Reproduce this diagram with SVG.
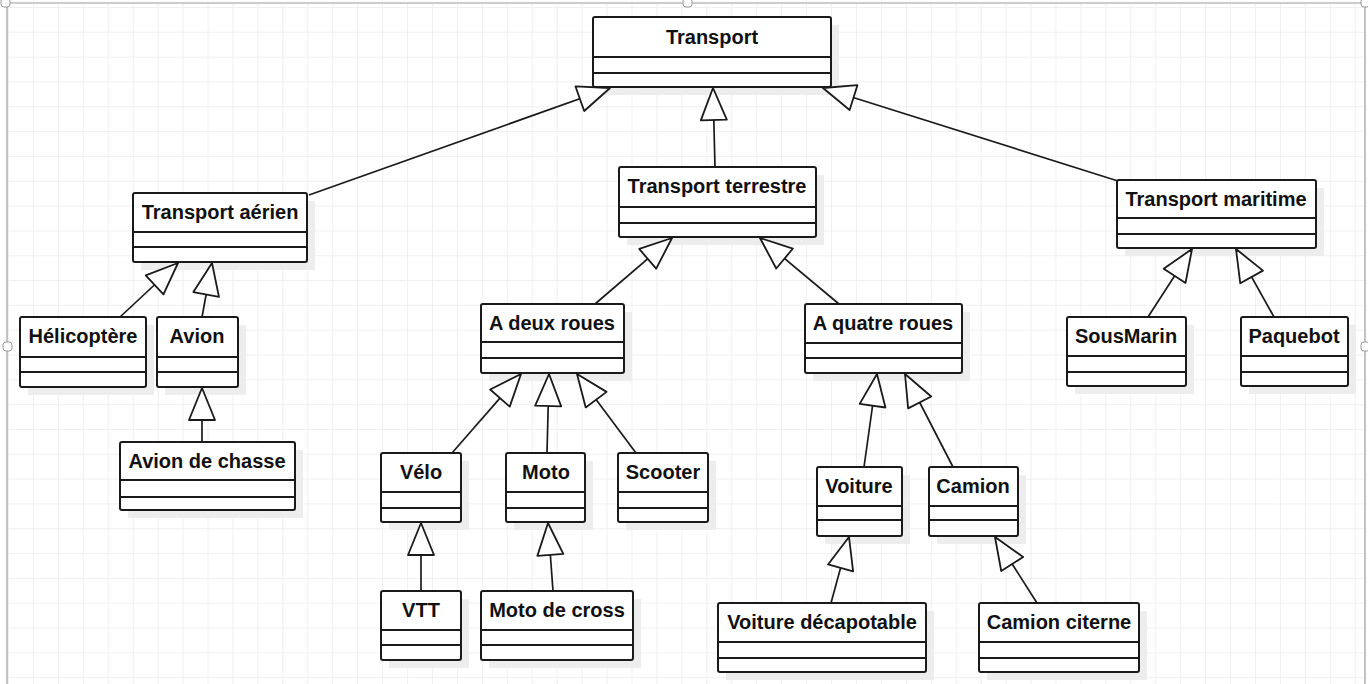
<svg xmlns="http://www.w3.org/2000/svg" width="1368" height="684" viewBox="0 0 1368 684">
<style>
.box{fill:#fff;stroke:#1a1a1a;stroke-width:2}
.shadow{fill:#ededed}
.div{stroke:#1a1a1a;stroke-width:2}
.lbl{font-family:"Liberation Sans",Arial,sans-serif;font-weight:bold;font-size:20px;fill:#111;text-anchor:middle}
.conn{stroke:#1a1a1a;stroke-width:1.7;fill:none}
.handle{fill:#fff;stroke:#9a9a9a;stroke-width:1}
</style>
<defs>
<pattern id="grid" x="8" y="7" width="24.94" height="24.82" patternUnits="userSpaceOnUse">
<path d="M0,0 H24.94 M0,0 V24.82" stroke="#ececec" stroke-width="1.5" fill="none"/>
</pattern>
<marker id="tri" viewBox="-2 -2 36 32" refX="32" refY="14" markerWidth="36" markerHeight="32" markerUnits="userSpaceOnUse" orient="auto" overflow="visible">
<path d="M0,1 L32,14 L0,27 Z" fill="#fff" stroke="#1a1a1a" stroke-width="1.8" stroke-linejoin="round"/>
</marker>
</defs>
<rect x="0" y="0" width="1368" height="684" fill="#fff"/>
<rect x="7" y="3" width="1358" height="681" fill="url(#grid)"/>
<path d="M7,684 V3 H1365 V684" fill="none" stroke="#9a9a9a" stroke-width="1.2"/>
<g id="handles">
<rect class="handle" x="1" y="-2" width="9" height="9" rx="3"/>
<rect class="handle" x="683" y="-2" width="9" height="9" rx="3"/>
<rect class="handle" x="1361" y="-2" width="9" height="9" rx="3"/>
<rect class="handle" x="3" y="342" width="9" height="9" rx="3"/>
<rect class="handle" x="1361" y="342" width="9" height="9" rx="3"/>
</g>

<g id="shadows">
<rect class="shadow" x="601" y="25" width="238" height="70"/>
<rect class="shadow" x="141" y="201" width="174" height="69"/>
<rect class="shadow" x="627" y="175" width="197" height="70"/>
<rect class="shadow" x="1125" y="188" width="199" height="68"/>
<rect class="shadow" x="28" y="325" width="126" height="70"/>
<rect class="shadow" x="165" y="325" width="81" height="70"/>
<rect class="shadow" x="128" y="450" width="175" height="68"/>
<rect class="shadow" x="489" y="312" width="143" height="69"/>
<rect class="shadow" x="813" y="312" width="157" height="69"/>
<rect class="shadow" x="389" y="461" width="80" height="69"/>
<rect class="shadow" x="514" y="461" width="79" height="69"/>
<rect class="shadow" x="626" y="461" width="90" height="69"/>
<rect class="shadow" x="389" y="599" width="80" height="69"/>
<rect class="shadow" x="489" y="599" width="152" height="69"/>
<rect class="shadow" x="825" y="475" width="85" height="69"/>
<rect class="shadow" x="937" y="475" width="89" height="69"/>
<rect class="shadow" x="726" y="611" width="208" height="69"/>
<rect class="shadow" x="987" y="611" width="160" height="69"/>
<rect class="shadow" x="1075" y="325" width="119" height="69"/>
<rect class="shadow" x="1249" y="325" width="107" height="69"/>
</g>

<g id="transport">
<rect class="box" x="593" y="17" width="238" height="70" rx="2"/>
<line class="div" x1="593" y1="57" x2="831" y2="57"/><line class="div" x1="593" y1="73" x2="831" y2="73"/>
<text class="lbl" x="712" y="44">Transport</text>
</g>
<g id="transport-aerien">
<rect class="box" x="133" y="193" width="174" height="69" rx="2"/>
<line class="div" x1="133" y1="232" x2="307" y2="232"/><line class="div" x1="133" y1="247" x2="307" y2="247"/>
<text class="lbl" x="220" y="219">Transport aérien</text>
</g>
<g id="transport-terrestre">
<rect class="box" x="619" y="167" width="197" height="70" rx="2"/>
<line class="div" x1="619" y1="207" x2="816" y2="207"/><line class="div" x1="619" y1="223" x2="816" y2="223"/>
<text class="lbl" x="717" y="193">Transport terrestre</text>
</g>
<g id="transport-maritime">
<rect class="box" x="1117" y="180" width="199" height="68" rx="2"/>
<line class="div" x1="1117" y1="218" x2="1316" y2="218"/><line class="div" x1="1117" y1="234" x2="1316" y2="234"/>
<text class="lbl" x="1216" y="206">Transport maritime</text>
</g>
<g id="helicoptere">
<rect class="box" x="20" y="317" width="126" height="70" rx="2"/>
<line class="div" x1="20" y1="357" x2="146" y2="357"/><line class="div" x1="20" y1="372" x2="146" y2="372"/>
<text class="lbl" x="83" y="343">Hélicoptère</text>
</g>
<g id="avion">
<rect class="box" x="157" y="317" width="81" height="70" rx="2"/>
<line class="div" x1="157" y1="357" x2="238" y2="357"/><line class="div" x1="157" y1="372" x2="238" y2="372"/>
<text class="lbl" x="197" y="343">Avion</text>
</g>
<g id="avion-de-chasse">
<rect class="box" x="120" y="442" width="175" height="68" rx="2"/>
<line class="div" x1="120" y1="480" x2="295" y2="480"/><line class="div" x1="120" y1="497" x2="295" y2="497"/>
<text class="lbl" x="207" y="468">Avion de chasse</text>
</g>
<g id="a-deux-roues">
<rect class="box" x="481" y="304" width="143" height="69" rx="2"/>
<line class="div" x1="481" y1="342" x2="624" y2="342"/><line class="div" x1="481" y1="358" x2="624" y2="358"/>
<text class="lbl" x="552" y="330">A deux roues</text>
</g>
<g id="a-quatre-roues">
<rect class="box" x="805" y="304" width="157" height="69" rx="2"/>
<line class="div" x1="805" y1="343" x2="962" y2="343"/><line class="div" x1="805" y1="358" x2="962" y2="358"/>
<text class="lbl" x="883" y="330">A quatre roues</text>
</g>
<g id="velo">
<rect class="box" x="381" y="453" width="80" height="69" rx="2"/>
<line class="div" x1="381" y1="492" x2="461" y2="492"/><line class="div" x1="381" y1="508" x2="461" y2="508"/>
<text class="lbl" x="421" y="479">Vélo</text>
</g>
<g id="moto">
<rect class="box" x="506" y="453" width="79" height="69" rx="2"/>
<line class="div" x1="506" y1="492" x2="585" y2="492"/><line class="div" x1="506" y1="508" x2="585" y2="508"/>
<text class="lbl" x="546" y="479">Moto</text>
</g>
<g id="scooter">
<rect class="box" x="618" y="453" width="90" height="69" rx="2"/>
<line class="div" x1="618" y1="492" x2="708" y2="492"/><line class="div" x1="618" y1="508" x2="708" y2="508"/>
<text class="lbl" x="663" y="479">Scooter</text>
</g>
<g id="vtt">
<rect class="box" x="381" y="591" width="80" height="69" rx="2"/>
<line class="div" x1="381" y1="630" x2="461" y2="630"/><line class="div" x1="381" y1="645" x2="461" y2="645"/>
<text class="lbl" x="421" y="617">VTT</text>
</g>
<g id="moto-de-cross">
<rect class="box" x="481" y="591" width="152" height="69" rx="2"/>
<line class="div" x1="481" y1="630" x2="633" y2="630"/><line class="div" x1="481" y1="645" x2="633" y2="645"/>
<text class="lbl" x="557" y="617">Moto de cross</text>
</g>
<g id="voiture">
<rect class="box" x="817" y="467" width="85" height="69" rx="2"/>
<line class="div" x1="817" y1="506" x2="902" y2="506"/><line class="div" x1="817" y1="520" x2="902" y2="520"/>
<text class="lbl" x="859" y="493">Voiture</text>
</g>
<g id="camion">
<rect class="box" x="929" y="467" width="89" height="69" rx="2"/>
<line class="div" x1="929" y1="506" x2="1018" y2="506"/><line class="div" x1="929" y1="520" x2="1018" y2="520"/>
<text class="lbl" x="973" y="493">Camion</text>
</g>
<g id="voiture-decapotable">
<rect class="box" x="718" y="603" width="208" height="69" rx="2"/>
<line class="div" x1="718" y1="642" x2="926" y2="642"/><line class="div" x1="718" y1="658" x2="926" y2="658"/>
<text class="lbl" x="822" y="629">Voiture décapotable</text>
</g>
<g id="camion-citerne">
<rect class="box" x="979" y="603" width="160" height="69" rx="2"/>
<line class="div" x1="979" y1="642" x2="1139" y2="642"/><line class="div" x1="979" y1="658" x2="1139" y2="658"/>
<text class="lbl" x="1059" y="629">Camion citerne</text>
</g>
<g id="sousmarin">
<rect class="box" x="1067" y="317" width="119" height="69" rx="2"/>
<line class="div" x1="1067" y1="356" x2="1186" y2="356"/><line class="div" x1="1067" y1="372" x2="1186" y2="372"/>
<text class="lbl" x="1126" y="343">SousMarin</text>
</g>
<g id="paquebot">
<rect class="box" x="1241" y="317" width="107" height="69" rx="2"/>
<line class="div" x1="1241" y1="356" x2="1348" y2="356"/><line class="div" x1="1241" y1="372" x2="1348" y2="372"/>
<text class="lbl" x="1294" y="343">Paquebot</text>
</g>

<g id="connectors">
<line class="conn" x1="309" y1="195" x2="610" y2="88" marker-end="url(#tri)"/>
<line class="conn" x1="715" y1="167" x2="713" y2="88" marker-end="url(#tri)"/>
<line class="conn" x1="1118" y1="181" x2="823" y2="88" marker-end="url(#tri)"/>
<line class="conn" x1="120" y1="317" x2="178" y2="263" marker-end="url(#tri)"/>
<line class="conn" x1="202" y1="317" x2="212" y2="263" marker-end="url(#tri)"/>
<line class="conn" x1="202" y1="442" x2="202" y2="388" marker-end="url(#tri)"/>
<line class="conn" x1="595" y1="304" x2="672" y2="238" marker-end="url(#tri)"/>
<line class="conn" x1="839" y1="304" x2="760" y2="238" marker-end="url(#tri)"/>
<line class="conn" x1="452" y1="453" x2="521" y2="374" marker-end="url(#tri)"/>
<line class="conn" x1="547" y1="453" x2="549" y2="374" marker-end="url(#tri)"/>
<line class="conn" x1="636" y1="453" x2="577" y2="374" marker-end="url(#tri)"/>
<line class="conn" x1="421" y1="591" x2="421" y2="523" marker-end="url(#tri)"/>
<line class="conn" x1="553" y1="591" x2="548" y2="523" marker-end="url(#tri)"/>
<line class="conn" x1="864" y1="467" x2="877" y2="374" marker-end="url(#tri)"/>
<line class="conn" x1="953" y1="467" x2="905" y2="374" marker-end="url(#tri)"/>
<line class="conn" x1="831" y1="603" x2="849" y2="537" marker-end="url(#tri)"/>
<line class="conn" x1="1037" y1="603" x2="995" y2="537" marker-end="url(#tri)"/>
<line class="conn" x1="1148" y1="317" x2="1192" y2="249" marker-end="url(#tri)"/>
<line class="conn" x1="1274" y1="317" x2="1236" y2="249" marker-end="url(#tri)"/>
</g>
</svg>
